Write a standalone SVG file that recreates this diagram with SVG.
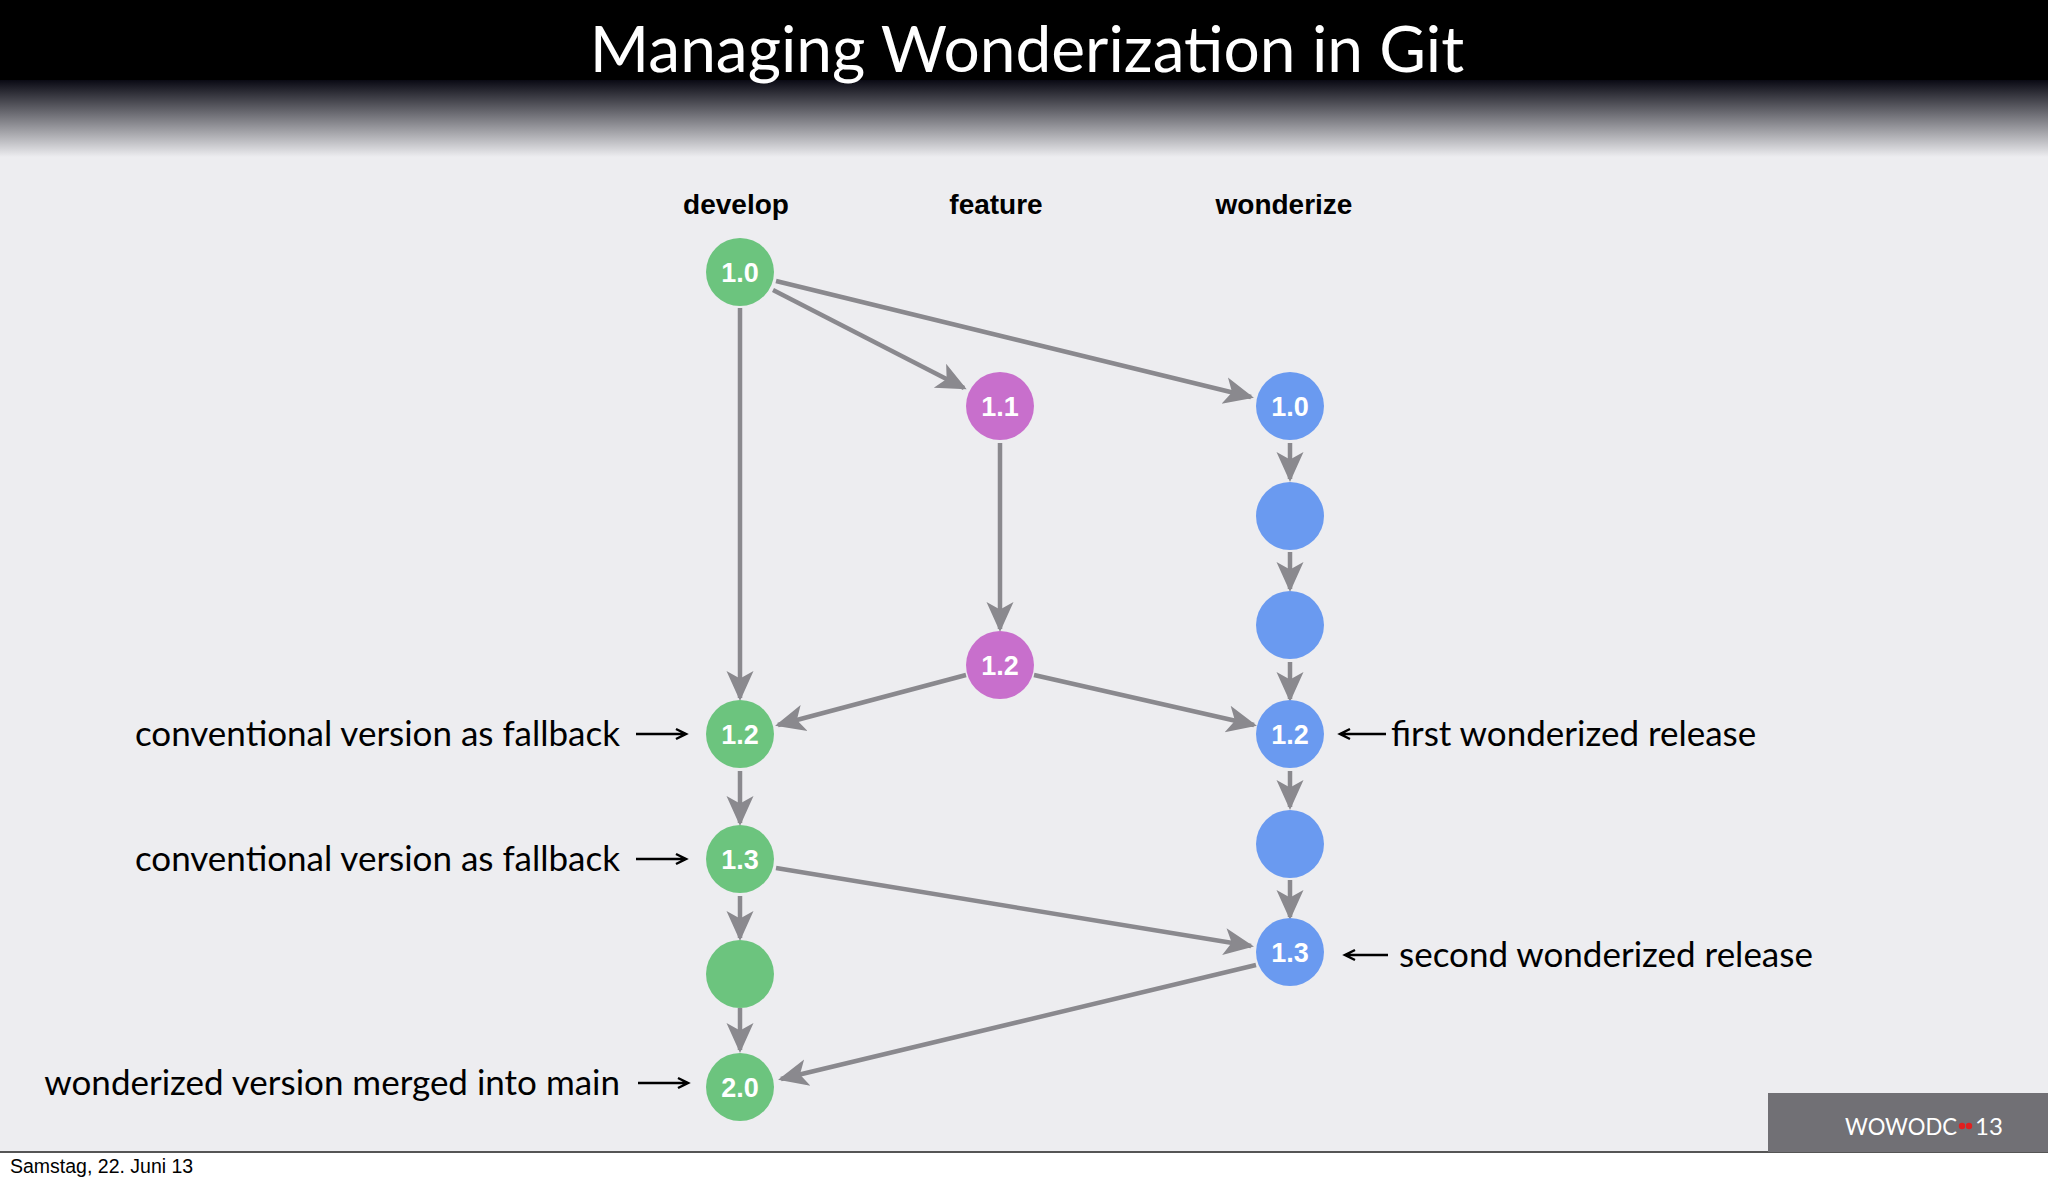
<svg xmlns="http://www.w3.org/2000/svg" width="2048" height="1184" viewBox="0 0 2048 1184">
<defs>
<linearGradient id="hg" x1="0" y1="0" x2="0" y2="1">
<stop offset="0" stop-color="#000"/><stop offset="0.5" stop-color="#05050f"/><stop offset="1" stop-color="#ededf0"/>
</linearGradient>
<marker id="ah" viewBox="0 0 20 20" refX="18" refY="10" markerWidth="30" markerHeight="30" markerUnits="userSpaceOnUse" orient="auto">
<path d="M0,1 L20,10 L0,19 L5,10 Z" fill="#8a898e"/>
</marker>
<style>
.e{stroke:#8a898e;stroke-width:4.5;fill:none;marker-end:url(#ah)}
.g{fill:#6cc47e}.p{fill:#c86fcc}.b{fill:#6a9af0}
.n{font-family:"Liberation Sans",Arial,sans-serif;font-weight:bold;font-size:27px;fill:#fff;text-anchor:middle}
.h{font-family:"Liberation Sans",Arial,sans-serif;font-weight:bold;font-size:28px;fill:#000;text-anchor:middle}
.l{font-family:Lato,"Open Sans",sans-serif;font-size:35px;fill:#000}
.a{stroke:#000;stroke-width:2.5;fill:none}
</style>
</defs>
<rect width="2048" height="1184" fill="#fff"/>
<rect x="0" y="0" width="2048" height="1152" fill="#ededf0"/>
<rect x="0" y="0" width="2048" height="157" fill="url(#hg)"/>
<rect x="0" y="0" width="2048" height="80" fill="#000"/>
<text x="1027" y="72" font-family="Lato,'Open Sans',sans-serif" font-size="64" fill="#fff" text-anchor="middle">Managing Wonderization in Git</text>
<line x1="0" y1="1152" x2="2048" y2="1152" stroke="#555" stroke-width="2"/>
<rect x="1768" y="1093" width="280" height="59" fill="#717075"/>
<text x="1845" y="1135" font-family="Lato,'Open Sans',sans-serif" font-size="24" fill="#fff" textLength="112" lengthAdjust="spacingAndGlyphs">WOWODC</text>
<circle cx="1962" cy="1126" r="3.2" fill="#e02020"/><circle cx="1969" cy="1126" r="3.2" fill="#e02020"/>
<text x="1975" y="1135" font-family="Lato,'Open Sans',sans-serif" font-size="24" fill="#fff">13</text>
<text x="10" y="1173" font-family="'Liberation Sans',Arial,sans-serif" font-size="19.5" fill="#000">Samstag, 22. Juni 13</text>
<text class="h" x="736" y="214">develop</text>
<text class="h" x="996" y="214">feature</text>
<text class="h" x="1284" y="214">wonderize</text>
<g id="connectors">
<path class="e" d="M740,308 L740,698"/>
<path class="e" d="M773,290 L964,388"/>
<path class="e" d="M776,281 L1251,397"/>
<path class="e" d="M1000,443 L1000,629"/>
<path class="e" d="M1290,443 L1290,479"/>
<path class="e" d="M1290,552 L1290,589"/>
<path class="e" d="M1290,662 L1290,699"/>
<path class="e" d="M1290,771 L1290,807"/>
<path class="e" d="M1290,880 L1290,917"/>
<path class="e" d="M966,675 L778,725"/>
<path class="e" d="M1034,675 L1254,725"/>
<path class="e" d="M740,771 L740,823"/>
<path class="e" d="M740,896 L740,938"/>
<path class="e" d="M740,1008 L740,1050"/>
<path class="e" d="M776,868 L1251,946"/>
<path class="e" d="M1256,965 L781,1079"/>
</g>
<g id="d10"><circle class="g" cx="740" cy="272" r="34"/><text class="n" x="740" y="282">1.0</text></g>
<g id="d12"><circle class="g" cx="740" cy="734" r="34"/><text class="n" x="740" y="744">1.2</text></g>
<g id="d13"><circle class="g" cx="740" cy="859" r="34"/><text class="n" x="740" y="869">1.3</text></g>
<g id="d14"><circle class="g" cx="740" cy="974" r="34"/></g>
<g id="d20"><circle class="g" cx="740" cy="1087" r="34"/><text class="n" x="740" y="1097">2.0</text></g>
<g id="f11"><circle class="p" cx="1000" cy="406" r="34"/><text class="n" x="1000" y="416">1.1</text></g>
<g id="f12"><circle class="p" cx="1000" cy="665" r="34"/><text class="n" x="1000" y="675">1.2</text></g>
<g id="w10"><circle class="b" cx="1290" cy="406" r="34"/><text class="n" x="1290" y="416">1.0</text></g>
<g id="w11"><circle class="b" cx="1290" cy="516" r="34"/></g>
<g id="w115"><circle class="b" cx="1290" cy="625" r="34"/></g>
<g id="w12"><circle class="b" cx="1290" cy="734" r="34"/><text class="n" x="1290" y="744">1.2</text></g>
<g id="w125"><circle class="b" cx="1290" cy="844" r="34"/></g>
<g id="w13"><circle class="b" cx="1290" cy="952" r="34"/><text class="n" x="1290" y="962">1.3</text></g>
<g id="labels">
<text class="l" x="620" y="746" text-anchor="end">conventional version as fallback</text>
<path class="a" d="M636,734 H684 M676,729 L686,734 L676,739"/>
<text class="l" x="620" y="871" text-anchor="end">conventional version as fallback</text>
<path class="a" d="M636,859 H684 M676,854 L686,859 L676,864"/>
<text class="l" x="620" y="1095" text-anchor="end">wonderized version merged into main</text>
<path class="a" d="M638,1083 H686 M678,1078 L688,1083 L678,1088"/>
<text class="l" x="1391" y="746">first wonderized release</text>
<path class="a" d="M1340,734 H1386 M1350,729 L1340,734 L1350,739"/>
<text class="l" x="1399" y="967">second wonderized release</text>
<path class="a" d="M1345,955 H1388 M1355,950 L1345,955 L1355,960"/>
</g>
</svg>
